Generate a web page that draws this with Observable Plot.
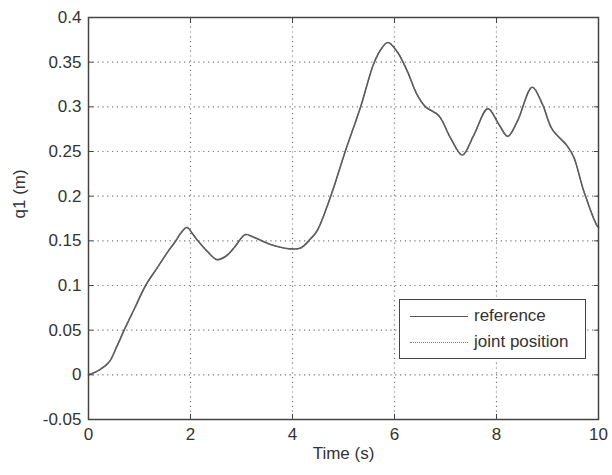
<!DOCTYPE html>
<html>
<head>
<meta charset="utf-8">
<script src="https://cdn.jsdelivr.net/npm/d3@7"></script>
<script src="https://cdn.jsdelivr.net/npm/@observablehq/plot@0.6"></script>
<style>
  html, body { margin: 0; padding: 0; background: #fff; }
  #wrap { position: relative; width: 612px; height: 475px; font-family: "Liberation Sans", Arial, sans-serif; }
  #legend { position: absolute; left: 399px; top: 299px; width: 185px; height: 58px; border: 1.4px solid #444; background: #fff; }
  #legend .row { position: absolute; left: 0; height: 20px; font-size: 17px; color: #333; }
  #legend .sw { position: absolute; left: 10px; width: 58px; top: 10px; }
  #legend .lbl { position: absolute; left: 74px; top: 0; white-space: nowrap; line-height: 20px; }
</style>
</head>
<body>
<div id="wrap">
  <div id="chart"></div>
  <div id="legend">
    <div class="row" style="top:6px"><div class="sw" style="border-top:1.5px solid #555"></div><div class="lbl">reference</div></div>
    <div class="row" style="top:32px"><div class="sw" style="border-top:1.5px dotted #777"></div><div class="lbl">joint position</div></div>
  </div>
</div>
<script>
// Data
const time = [0, 0.2, 0.4, 0.55, 0.69, 0.9, 1.12, 1.35, 1.57, 1.7, 1.8, 1.93, 2.05, 2.16, 2.35, 2.52, 2.7, 2.85, 3.08, 3.24, 3.57, 3.96, 4.16, 4.35, 4.48, 4.75, 5.04, 5.33, 5.59, 5.73, 5.87, 6.05, 6.25, 6.44, 6.61, 6.87, 7.1, 7.33, 7.56, 7.83, 8.05, 8.22, 8.41, 8.7, 8.9, 9.09, 9.39, 9.52, 9.71, 9.97, 10];
const reference = [0, 0.005, 0.014, 0.031, 0.049, 0.074, 0.1, 0.12, 0.139, 0.149, 0.158, 0.165, 0.157, 0.149, 0.137, 0.129, 0.133, 0.142, 0.157, 0.154, 0.146, 0.141, 0.142, 0.152, 0.161, 0.2, 0.251, 0.299, 0.348, 0.364, 0.372, 0.362, 0.34, 0.314, 0.3, 0.29, 0.265, 0.246, 0.269, 0.298, 0.28, 0.267, 0.284, 0.322, 0.303, 0.275, 0.256, 0.243, 0.206, 0.167, 0.165];
const jointPosition = [0, 0.005, 0.014, 0.031, 0.049, 0.074, 0.1, 0.12, 0.139, 0.149, 0.158, 0.165, 0.157, 0.149, 0.137, 0.129, 0.133, 0.142, 0.157, 0.154, 0.146, 0.141, 0.142, 0.152, 0.161, 0.2, 0.251, 0.299, 0.348, 0.364, 0.372, 0.362, 0.34, 0.314, 0.3, 0.29, 0.265, 0.246, 0.269, 0.298, 0.28, 0.267, 0.284, 0.322, 0.303, 0.275, 0.256, 0.243, 0.206, 0.167, 0.165];
const xTicks = [0, 2, 4, 6, 8, 10];
const xTickLabels = ["0", "2", "4", "6", "8", "10"];
const yTicks = [-0.05, 0, 0.05, 0.1, 0.15, 0.2, 0.25, 0.3, 0.35, 0.4];
const yTickLabels = ["-0.05", "0", "0.05", "0.1", "0.15", "0.2", "0.25", "0.3", "0.35", "0.4"];
const xLabel = "Time (s)";
const yLabel = "q1 (m)";

const refData = time.map((t, i) => ({t, q: reference[i]}));
const jointData = time.map((t, i) => ({t, q: jointPosition[i]}));
const xFmt = d => xTickLabels[xTicks.indexOf(d)];
const yFmt = d => yTickLabels[yTicks.findIndex(v => Math.abs(v - d) < 1e-9)];

const chart = Plot.plot({
  width: 612,
  height: 475,
  marginLeft: 88,
  marginRight: 14,
  marginTop: 17,
  marginBottom: 56,
  style: {fontFamily: "'Liberation Sans', Arial, sans-serif", fontSize: "17px", color: "#333", background: "#fff"},
  x: {domain: [0, 10]},
  y: {domain: [-0.05, 0.4]},
  marks: [
    Plot.ruleX(xTicks.slice(1, -1), {stroke: "#777", strokeWidth: 1.2, strokeDasharray: "1.2,3.6"}),
    Plot.ruleY(yTicks.slice(1, -1), {stroke: "#777", strokeWidth: 1.2, strokeDasharray: "1.2,3.6"}),
    Plot.line(refData, {x: "t", y: "q", stroke: "#555", strokeWidth: 1.6, curve: "catmull-rom"}),
    Plot.line(jointData, {x: "t", y: "q", stroke: "#666", strokeWidth: 1.2, strokeDasharray: "1.2,2.5", curve: "catmull-rom"}),
    Plot.frame({stroke: "#444", strokeWidth: 1.5}),
    Plot.axisX(xTicks, {anchor: "bottom", tickSize: -5, tickPadding: 13, tickFormat: xFmt, label: null, stroke: "#444", fill: "#333"}),
    Plot.axisX(xTicks, {anchor: "top", tickSize: -5, tickFormat: () => "", label: null, stroke: "#444"}),
    Plot.axisY(yTicks, {anchor: "left", tickSize: -5, tickPadding: 12, tickFormat: yFmt, label: null, stroke: "#444", fill: "#333"}),
    Plot.axisY(yTicks, {anchor: "right", tickSize: -5, tickFormat: () => "", label: null, stroke: "#444"}),
    Plot.text([xLabel], {frameAnchor: "bottom", dy: 39, fontSize: 17, fill: "#333"}),
    Plot.text([yLabel], {frameAnchor: "left", dx: -69, rotate: -90, fontSize: 17, fill: "#333"})
  ]
});
document.getElementById("chart").appendChild(chart);
</script>
</body>
</html>
